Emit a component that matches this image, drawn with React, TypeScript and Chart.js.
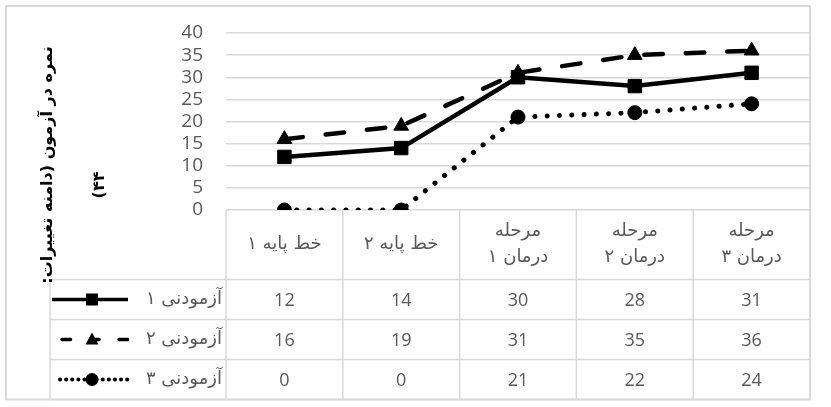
import { useEffect, useRef } from "react";
import { Chart, registerables } from "chart.js";

Chart.register(...registerables);

const categories: string[][] = [
  ["خط پایه ۱"],
  ["خط پایه ۲"],
  ["مرحله", "درمان ۱"],
  ["مرحله", "درمان ۲"],
  ["مرحله", "درمان ۳"],
];
const seriesNames = ["آزمودنی ۱", "آزمودنی ۲", "آزمودنی ۳"];
const series1 = [12, 14, 30, 28, 31];
const series2 = [16, 19, 31, 35, 36];
const series3 = [0, 0, 21, 22, 24];
const yMin = 0;
const yMax = 40;
const yStep = 5;
const yTitleLines = ["نمره در آزمون (دامنه تغییرات:", "۴۴)"];

const GRID = "#d9d9d9";
const TEXT = "#595959";
const NUM_FONT = '"Open Sans", "Liberation Sans", sans-serif';
const FA_FONT = '"DejaVu Sans", sans-serif';

const allSeries = [series1, series2, series3];

function line(ctx: CanvasRenderingContext2D, x1: number, y1: number, x2: number, y2: number) {
  ctx.beginPath();
  ctx.moveTo(x1, y1);
  ctx.lineTo(x2, y2);
  ctx.stroke();
}

const tablePlugin = {
  id: "dataTable",
  beforeDatasetsDraw(chart: any) {
    const ctx: CanvasRenderingContext2D = chart.ctx;
    const area = chart.chartArea;
    const xs = chart.scales.x;
    const n = categories.length;
    const colW = (area.right - area.left) / n;
    const headerBottom = area.bottom + 69.5;
    const rowH = 40;
    const rowsBottom = headerBottom + rowH * allSeries.length;
    const legendLeft = 50;

    ctx.save();
    // outer border
    ctx.strokeStyle = GRID;
    ctx.lineWidth = 2;
    ctx.strokeRect(6, 6, area.right - 6, rowsBottom - 6);

    ctx.lineWidth = 1.5;
    for (let i = 0; i <= n; i++) {
      const xx = area.left + i * colW;
      line(ctx, xx, area.bottom, xx, rowsBottom);
    }
    line(ctx, legendLeft, headerBottom, legendLeft, rowsBottom);
    for (let r = 0; r <= allSeries.length; r++) {
      const yy = headerBottom + r * rowH;
      line(ctx, legendLeft, yy, area.right, yy);
    }

    // header texts
    ctx.fillStyle = TEXT;
    ctx.font = `18px ${FA_FONT}`;
    ctx.textAlign = "center";
    ctx.textBaseline = "middle";
    (ctx as any).direction = "rtl";
    categories.forEach((lines, i) => {
      const cx = xs.getPixelForValue(i);
      const mid = (area.bottom + headerBottom) / 2;
      const lh = 26;
      lines.forEach((t, k) => {
        const yy = mid - ((lines.length - 1) * lh) / 2 + k * lh;
        ctx.fillText(t, cx, yy);
      });
    });

    // values
    ctx.font = `18px ${NUM_FONT}`;
    (ctx as any).direction = "ltr";
    allSeries.forEach((vals, r) => {
      const cy = headerBottom + r * rowH + rowH / 2 + 1;
      vals.forEach((v, i) => {
        ctx.fillText(String(v), xs.getPixelForValue(i), cy);
      });
    });

    // legend column
    chart.data.datasets.forEach((ds: any, r: number) => {
      const cy = headerBottom + r * rowH + rowH / 2;
      ctx.font = `18px ${FA_FONT}`;
      ctx.fillStyle = TEXT;
      ctx.textAlign = "right";
      (ctx as any).direction = "rtl";
      ctx.fillText(seriesNames[r], area.left - 4, cy);
      (ctx as any).direction = "ltr";
      const sx1 = legendLeft + 2;
      const sx2 = legendLeft + 78;
      const mx = legendLeft + 42;
      ctx.strokeStyle = "#000";
      ctx.fillStyle = "#000";
      ctx.lineCap = "round";
      if (r === 0) {
        ctx.lineWidth = 3.5;
        ctx.setLineDash([]);
        ctx.lineCap = "butt";
        line(ctx, sx1, cy, sx2, cy);
        ctx.fillRect(mx - 6, cy - 6, 12, 12);
      } else if (r === 1) {
        ctx.lineWidth = 3.5;
        ctx.setLineDash([8.5, 20]);
        line(ctx, sx1 + 10, cy, sx2, cy);
        ctx.setLineDash([]);
        ctx.beginPath();
        ctx.moveTo(mx, cy - 7);
        ctx.lineTo(mx + 6.5, cy + 5);
        ctx.lineTo(mx - 6.5, cy + 5);
        ctx.closePath();
        ctx.fill();
      } else {
        ctx.lineWidth = 4;
        ctx.setLineDash([0.1, 6]);
        line(ctx, sx1 + 8, cy, sx2, cy);
        ctx.setLineDash([]);
        ctx.beginPath();
        ctx.arc(mx, cy, 6.5, 0, Math.PI * 2);
        ctx.fill();
      }
    });
    ctx.restore();
  },
  afterDraw(chart: any) {
    const ctx: CanvasRenderingContext2D = chart.ctx;
    ctx.save();
    ctx.fillStyle = "#000";
    ctx.font = `bold 16px ${FA_FONT}`;
    ctx.textAlign = "center";
    ctx.textBaseline = "middle";
    (ctx as any).direction = "rtl";
    const pos = [
      [48, 165],
      [100, 185],
    ];
    yTitleLines.forEach((t, i) => {
      ctx.save();
      ctx.translate(pos[i][0], pos[i][1]);
      ctx.rotate(-Math.PI / 2);
      ctx.fillText(t, 0, 0);
      ctx.restore();
    });
    ctx.restore();
  },
};

export default function App() {
  const ref = useRef<HTMLCanvasElement | null>(null);
  useEffect(() => {
    if (!ref.current) return;
    const chart = new Chart(ref.current, {
      type: "line",
      data: {
        labels: categories,
        datasets: [
          {
            label: seriesNames[0],
            data: series1,
            borderColor: "#000",
            backgroundColor: "#000",
            borderWidth: 4.5,
            pointStyle: "rect",
            pointRadius: 9.5,
            pointBorderWidth: 1,
            pointBackgroundColor: "#000",
            pointBorderColor: "#000",
            tension: 0,
          },
          {
            label: seriesNames[1],
            data: series2,
            borderColor: "#000",
            backgroundColor: "#000",
            borderWidth: 4.5,
            borderDash: [18.5, 23],
            borderCapStyle: "round",
            pointStyle: "triangle",
            pointRadius: 8.5,
            pointBorderWidth: 1,
            pointBackgroundColor: "#000",
            pointBorderColor: "#000",
            tension: 0,
          },
          {
            label: seriesNames[2],
            data: series3,
            borderColor: "#000",
            backgroundColor: "#000",
            borderWidth: 5,
            borderDash: [0.1, 12.2],
            borderCapStyle: "round",
            pointStyle: "circle",
            pointRadius: 7,
            pointBorderWidth: 1,
            pointBackgroundColor: "#000",
            pointBorderColor: "#000",
            tension: 0,
          },
        ],
      },
      options: {
        responsive: false,
        animation: false,
        layout: { padding: { top: 33, right: 21, bottom: 197, left: 0 } },
        plugins: { legend: { display: false }, tooltip: { enabled: false }, title: { display: false } },
        scales: {
          x: { type: "category", display: false, offset: true },
          y: {
            min: yMin,
            max: yMax,
            ticks: {
              stepSize: yStep,
              autoSkip: false,
              padding: 23,
              color: TEXT,
              font: { family: NUM_FONT, size: 19 },
            },
            grid: { color: GRID, lineWidth: 1.5, drawTicks: false },
            border: { display: false },
            afterFit: (scale: any) => {
              scale.width = 226;
              scale.paddingTop = 0;
              scale.paddingBottom = 0;
            },
          },
        },
      },
      plugins: [tablePlugin],
    });
    return () => chart.destroy();
  }, []);
  return (
    <div style={{ position: "fixed", left: 0, top: 0, width: 831, height: 407, background: "#fff" }}>
      <canvas ref={ref} width={831} height={407} style={{ display: "block" }} />
    </div>
  );
}
